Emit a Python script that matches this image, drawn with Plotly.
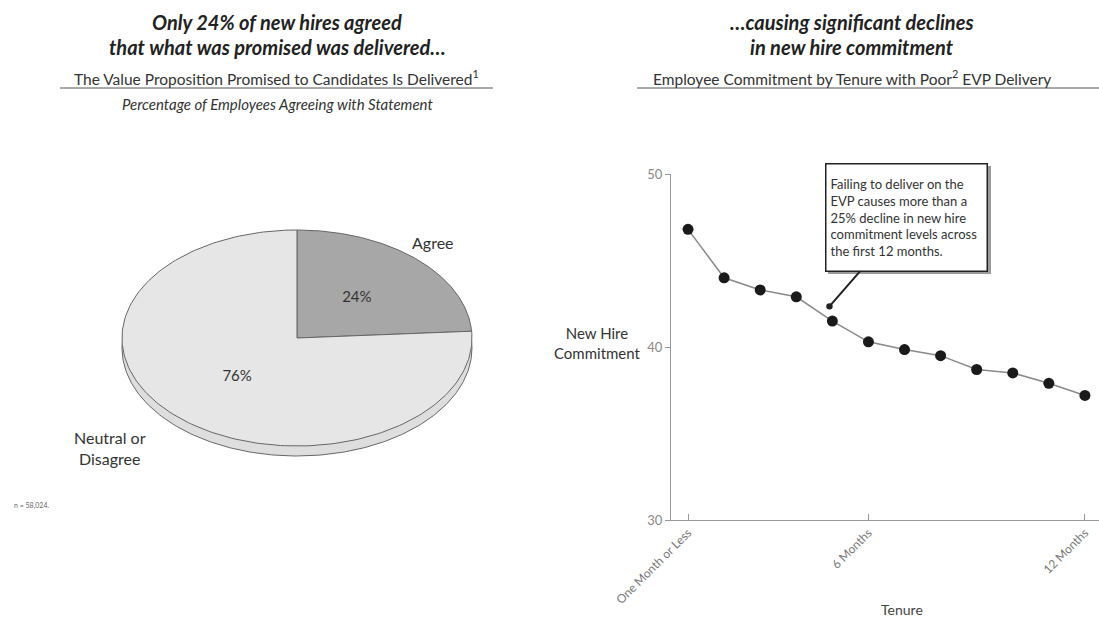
import numpy as np
import plotly.graph_objects as go

# ---------------- data ----------------
pie_labels = ["Agree", "Neutral or Disagree"]
pie_values = [24, 76]
pie_colors = ["#a7a7a7", "#e6e6e6"]

tenure_months = [1, 2, 3, 4, 5, 6, 7, 8, 9, 10, 11, 12]
commitment = [46.8, 44.0, 43.3, 42.9, 41.5, 40.3, 39.85, 39.5, 38.7, 38.5, 37.9, 37.2]
tick_vals = [1, 6, 12]
tick_text = ["One Month or Less", "6 Months", "12 Months"]

W, H = 1099, 619
FONT = "Lato"


def px(x):
    return x / W


def py(y):
    return 1 - y / H


fig = go.Figure()

# ---------------- pie (tilted, drawn on a hidden axis pair) ----------------
depth = 10 / 108.0
t_full = np.linspace(0, 2 * np.pi, 400)
fig.add_trace(go.Scatter(
    x=np.cos(t_full), y=np.sin(t_full) - depth, mode="lines", fill="toself",
    fillcolor="#dedede", line=dict(color="#666", width=1),
    xaxis="x", yaxis="y", hoverinfo="skip", showlegend=False))

total = float(sum(pie_values))
start = 0.0
for lab, val, col in zip(pie_labels, pie_values, pie_colors):
    a0 = np.pi / 2 - 2 * np.pi * start / total
    a1 = np.pi / 2 - 2 * np.pi * (start + val) / total
    ts = np.linspace(a0, a1, 200)
    xs = np.concatenate([[0], np.cos(ts), [0]])
    ys = np.concatenate([[0], np.sin(ts), [0]])
    fig.add_trace(go.Scatter(
        x=xs, y=ys, mode="lines", fill="toself", fillcolor=col,
        line=dict(color="#666", width=1), name=lab,
        xaxis="x", yaxis="y", hoverinfo="skip", showlegend=False))
    am = (a0 + a1) / 2
    fig.add_trace(go.Scatter(
        x=[0.5 * np.cos(am)], y=[0.5 * np.sin(am)], mode="text",
        text=[f"{val}%"], textfont=dict(family=FONT, size=15, color="#333"),
        xaxis="x", yaxis="y", hoverinfo="skip", showlegend=False))
    start += val

# ---------------- line chart ----------------
fig.add_trace(go.Scatter(
    x=tenure_months, y=commitment, mode="lines+markers",
    line=dict(color="#8a8a8a", width=1.5),
    marker=dict(color="#1a1a1a", size=11),
    xaxis="x2", yaxis="y2", hoverinfo="skip", showlegend=False))

# pie axis geometry
cx, cy, rx, ry = 297, 338, 175, 108
pie_x0, pie_x1 = 0.0, 0.5
fig.update_layout(
    xaxis=dict(domain=[pie_x0, pie_x1],
               range=[-(cx - pie_x0 * W) / rx, (pie_x1 * W - cx) / rx],
               visible=False, fixedrange=True, automargin=False),
    yaxis=dict(domain=[0, 1], range=[-(H - cy) / ry, cy / ry],
               visible=False, fixedrange=True, automargin=False),
    xaxis2=dict(domain=[px(671), 1.0], range=[0.528, 12.39], automargin=False,
                anchor="y2", tickmode="array", tickvals=tick_vals, ticktext=tick_text,
                tickangle=-45, ticks="inside", ticklen=6, tickcolor="#999",
                showline=True, linecolor="#999", linewidth=1.2, showgrid=False,
                zeroline=False, tickfont=dict(family=FONT, size=12, color="#777")),
    yaxis2=dict(domain=[py(520), py(174)], range=[30, 50], anchor="x2", automargin=False,
                tickvals=[30, 40, 50], ticks="outside", ticklen=5, tickcolor="#999",
                showline=True, linecolor="#999", linewidth=1.2, showgrid=False,
                zeroline=False, tickfont=dict(family=FONT, size=13, color="#888")),
)

ann = []


def text_ann(x, y, text, size, color="#222", bold=False, italic=False, **kw):
    t = text
    if bold:
        t = f"<b>{t}</b>"
    if italic:
        t = f"<i>{t}</i>"
    d = dict(x=px(x), y=py(y), xref="paper", yref="paper", text=t, showarrow=False,
             font=dict(family=FONT, size=size, color=color),
             xanchor="center", yanchor="middle")
    d.update(kw)
    ann.append(d)


# titles
text_ann(277, 22, "Only 24% of new hires agreed", 20, bold=True, italic=True)
text_ann(277, 47, "that what was promised was delivered…", 20, bold=True, italic=True)
text_ann(276, 77, "The Value Proposition Promised to Candidates Is Delivered<sup>1</sup>", 15.5, color="#333")
text_ann(277, 104, "Percentage of Employees Agreeing with Statement", 15, color="#333", italic=True)

text_ann(852, 22, "…causing significant declines", 20, bold=True, italic=True)
text_ann(852, 47, "in new hire commitment", 20, bold=True, italic=True)
text_ann(852, 77, "Employee Commitment by Tenure with Poor<sup>2</sup> EVP Delivery", 15.5, color="#333")

# pie labels
text_ann(433, 243, "Agree", 16, color="#333")
text_ann(110, 448, "Neutral or<br>Disagree", 16, color="#333")
text_ann(12, 505, "n = 58,024.", 7, color="#666", xanchor="left")

# line chart labels
text_ann(597, 343, "New Hire<br>Commitment", 15, color="#333")
text_ann(902, 609, "Tenure", 14, color="#444")

# callout
ann.append(dict(
    x=tenure_months[4] - 0.08, y=commitment[4] + 0.85, xref="x2", yref="y2",
    text="Failing to deliver on the<br>EVP causes more than a<br>25% decline in new hire<br>"
         "commitment levels across<br>the first 12 months.",
    showarrow=True, arrowhead=6, arrowsize=0.8, arrowwidth=2, arrowcolor="#222",
    ax=77.5, ay=-89, axref="pixel", ayref="pixel",
    align="left", bordercolor="#222", borderwidth=1.5, borderpad=4, bgcolor="white",
    width=152, height=98,
    font=dict(family=FONT, size=13, color="#333")))

shapes = [
    dict(type="line", xref="paper", yref="paper", x0=px(60), x1=px(493), y0=py(88), y1=py(88),
         line=dict(color="#aaa", width=2)),
    dict(type="line", xref="paper", yref="paper", x0=px(637), x1=1.0, y0=py(88), y1=py(88),
         line=dict(color="#aaa", width=2)),
    # soft drop shadow behind the callout box
    dict(type="rect", xref="paper", yref="paper", x0=px(828), x1=px(991), y0=py(274), y1=py(166),
         fillcolor="#9a9a9a", line=dict(width=0), layer="above"),
]

fig.update_layout(
    width=W, height=H, margin=dict(l=0, r=0, t=0, b=0, autoexpand=False),
    paper_bgcolor="white", plot_bgcolor="rgba(0,0,0,0)",
    annotations=ann, shapes=shapes, showlegend=False,
    font=dict(family=FONT),
)

fig.write_html("out.html")
